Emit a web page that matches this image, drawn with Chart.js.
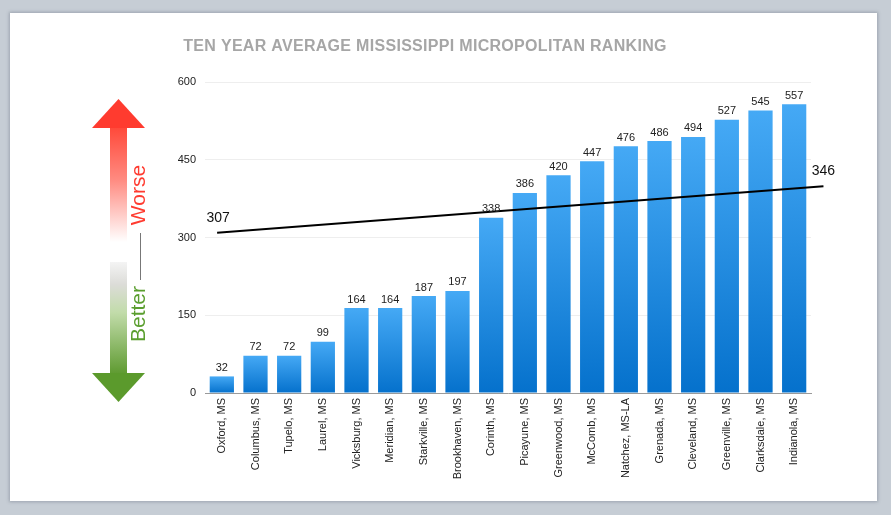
<!DOCTYPE html>
<html><head><meta charset="utf-8">
<script src="https://cdn.jsdelivr.net/npm/chart.js@4.4.1/dist/chart.umd.min.js"></script>
<style>
html,body{margin:0;padding:0;background:#c6cdd5;width:891px;height:515px;overflow:hidden}
#panel{position:absolute;left:10px;top:13px;width:867px;height:488px;background:#fff;box-shadow:0 0 3px 1px rgba(80,90,105,0.35)}
#wrap{position:absolute;left:0;top:0;width:891px;height:515px}
</style></head>
<body><div id="panel"></div><div id="wrap"><canvas id="c" width="891" height="515"></canvas></div>
<script>
const categories = ['Oxford, MS','Columbus, MS','Tupelo, MS','Laurel, MS','Vicksburg, MS','Meridian, MS','Starkville, MS','Brookhaven, MS','Corinth, MS','Picayune, MS','Greenwood, MS','McComb, MS','Natchez, MS-LA','Grenada, MS','Cleveland, MS','Greenville, MS','Clarksdale, MS','Indianola, MS'];
const rankings = [32,72,72,99,164,164,187,197,338,386,420,447,476,486,494,527,545,557];
const yTicks = [0,150,300,450,600];
const trendX = [-0.14, 17.87];
const trendY = [309, 399];
const trendLabels = ['307','346'];
const titleText = 'TEN YEAR AVERAGE MISSISSIPPI MICROPOLITAN RANKING';
const FONT = '"Liberation Sans", Arial, Helvetica, sans-serif';

const decor = {
  id:'decor',
  beforeDraw(chart){
    const c = chart.ctx;
    c.save();
    // title
    c.fillStyle = '#a6a6a6';
    c.font = 'bold 16px ' + FONT;
    try { c.letterSpacing = '0.3px'; } catch(e){}
    c.textAlign = 'center'; c.textBaseline = 'middle';
    c.fillText(titleText, 425, 47);
    try { c.letterSpacing = '0px'; } catch(e){}
    // arrow
    const cx = 118.5, hw = 26.5, sw = 8.5;
    let g = c.createLinearGradient(0,128,0,242);
    g.addColorStop(0,'#ff4a3b'); g.addColorStop(0.45,'#ff8a80'); g.addColorStop(1,'rgba(255,255,255,1)');
    c.fillStyle = g; c.fillRect(cx-sw,127,sw*2,115);
    c.fillStyle = '#ff3b2f';
    c.beginPath(); c.moveTo(cx,99); c.lineTo(cx+hw,128); c.lineTo(cx-hw,128); c.closePath(); c.fill();
    g = c.createLinearGradient(0,262,0,374);
    g.addColorStop(0,'#f4f4f4'); g.addColorStop(0.2,'#dcdcd8'); g.addColorStop(0.45,'#c2dcaa'); g.addColorStop(1,'#5e9a30');
    c.fillStyle = g; c.fillRect(cx-sw,262,sw*2,112);
    c.fillStyle = '#5b9a2c';
    c.beginPath(); c.moveTo(cx-hw,373); c.lineTo(cx+hw,373); c.lineTo(cx,402); c.closePath(); c.fill();
    // text
    c.font = '21px ' + FONT;
    c.textAlign='center'; c.textBaseline='middle';
    c.save(); c.translate(139,195); c.rotate(-Math.PI/2); c.fillStyle='#ff3b30'; c.fillText('Worse',0,0); c.restore();
    c.save(); c.translate(139,314); c.rotate(-Math.PI/2); c.fillStyle='#5a9e2e'; c.fillText('Better',0,0); c.restore();
    c.strokeStyle='#777'; c.lineWidth=1;
    c.beginPath(); c.moveTo(140.5,233); c.lineTo(140.5,280); c.stroke();
    c.restore();
  },
  afterDatasetsDraw(chart){
    const c = chart.ctx;
    c.save();
    c.font = '11px ' + FONT; c.fillStyle = '#222';
    c.textAlign='center'; c.textBaseline='bottom';
    chart.getDatasetMeta(0).data.forEach((b,i)=>{ c.fillText(String(rankings[i]), b.x, b.y-3); });
    c.font = '14px ' + FONT; c.fillStyle = '#111';
    chart.getDatasetMeta(1).data.forEach((p,i)=>{ c.fillText(trendLabels[i], p.x+(i===0?1:0), p.y-8); });
    c.restore();
  }
};

new Chart(document.getElementById('c'), {
  data:{
    labels: categories,
    datasets:[
      {type:'bar', data: rankings, grouped:false, barPercentage:0.72, categoryPercentage:1, order:2,
       backgroundColor:(ctx)=>{
         const ch = ctx.chart;
         if (ctx.type!=='data' || !ch.chartArea) return '#2a8fe0';
         const ys = ch.scales.y;
         const top = ys.getPixelForValue(ctx.raw), bot = ys.getPixelForValue(0);
         const g = ch.ctx.createLinearGradient(0,top,0,bot);
         g.addColorStop(0,'#45a9f5'); g.addColorStop(1,'#0571cc');
         return g;
       }},
      {type:'line', xAxisID:'x2', data: trendX.map((x,i)=>({x:x,y:trendY[i]})),
       borderColor:'#000', borderWidth:2, pointRadius:0, fill:false, clip:false, order:1}
    ]
  },
  options:{
    responsive:false, animation:false, devicePixelRatio:1,
    layout:{padding:{left:0,top:82,right:80,bottom:0}},
    plugins:{legend:{display:false}, tooltip:{enabled:false}, title:{display:false}},
    scales:{
      x:{type:'category', offset:true,
         grid:{display:false, drawTicks:false},
         border:{display:true, color:'#9a9a9a', width:1},
         ticks:{minRotation:90, maxRotation:90, autoSkip:false, padding:5, color:'#222', font:{size:11, family:FONT}},
         afterFit:(s)=>{ s.height = 122; }},
      x2:{type:'linear', display:false, min:-0.5, max:17.5},
      y:{min:0, max:600, afterBuildTicks:(s)=>{ s.ticks = yTicks.map(v=>({value:v})); },
         grid:{color:'#eeeeee', drawTicks:false},
         border:{display:false},
         ticks:{padding:9, color:'#222', font:{size:11, family:FONT}},
         afterFit:(s)=>{ s.width = 205; }}
    }
  },
  plugins:[decor]
});
</script>
</body></html>
